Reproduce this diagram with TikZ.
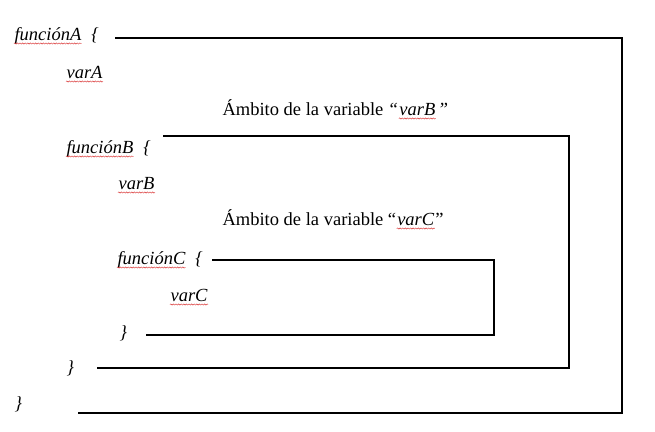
\documentclass[tikz,border=0pt]{standalone}
\usepackage{fontspec}
\setmainfont{Liberation Serif}
\usetikzlibrary{positioning,decorations.pathmorphing}

\begin{document}
\begin{tikzpicture}[x=1pt, y=-1pt, line width=1.1pt,
    code/.style={anchor=base west, inner sep=0pt, font=\fontsize{18.5}{22}\selectfont\itshape},
    scopetext/.style={anchor=base west, inner sep=0pt, font=\fontsize{18.5}{22}\selectfont},
    wave/.style={draw=wordred, line width=0.45pt, decorate,
      decoration={snake, amplitude=0.6pt, segment length=2.6pt}}]
			\definecolor{wordred}{rgb}{0.85,0.2,0.2}
				\useasboundingbox (0,0) rectangle (655,431);

				% funciones y variables
				\node[code] (fA) at (14,40) {funciónA};
				\node[code, base right=9pt of fA] (fAb) {\{};
				\node[code] (vA) at (66,78) {varA};
				\node[code] (fB) at (66,153) {funciónB};
				\node[code, base right=9pt of fB] (fBb) {\{};
				\node[code] (vB) at (118,189) {varB};
				\node[code] (fC) at (117,264) {funciónC};
				\node[code, base right=9pt of fC] (fCb) {\{};
				\node[code] (vC) at (170,301) {varC};
				\node[code] (cC) at (119,338) {\}};
				\node[code] (cB) at (66,373) {\}};
				\node[code] (cA) at (14,409) {\}};

				% ambitos
				\node[scopetext] (sB) at (222,115) {Ámbito de la variable \textit{“}};
				\node[code, base right=0pt of sB] (sBv) {varB};
				\node[code, base right=1.5pt of sBv] (sBq) {”};
				\node[scopetext] (sC) at (222,225) {Ámbito de la variable “};
				\node[code, base right=0pt of sC] (sCv) {varC};
				\node[scopetext, base right=0pt of sCv] (sCq) {”};

				% subrayado del corrector
				\foreach \w in {fA,vA,fB,vB,fC,vC,sBv,sCv}{
						\draw[wave] ([yshift=-3.5pt]\w.base west) -- ([yshift=-3.5pt]\w.base east);
					}

				% lineas de ambito
				\coordinate (aIn) at (115,38);
				\coordinate (aEdge) at (622,413);
				\coordinate (aOut) at (78,413);
				\coordinate (bIn) at (163,136);
				\coordinate (bEdge) at (569,368);
				\coordinate (bOut) at (97,368);
				\coordinate (cIn) at (212,260);
				\coordinate (cEdge) at (494,335);
				\coordinate (cOut) at (146,335);

				\draw (aIn) -| (aEdge) -- (aOut);
				\draw (bIn) -| (bEdge) -- (bOut);
				\draw (cIn) -| (cEdge) -- (cOut);
\end{tikzpicture}
\end{document}
